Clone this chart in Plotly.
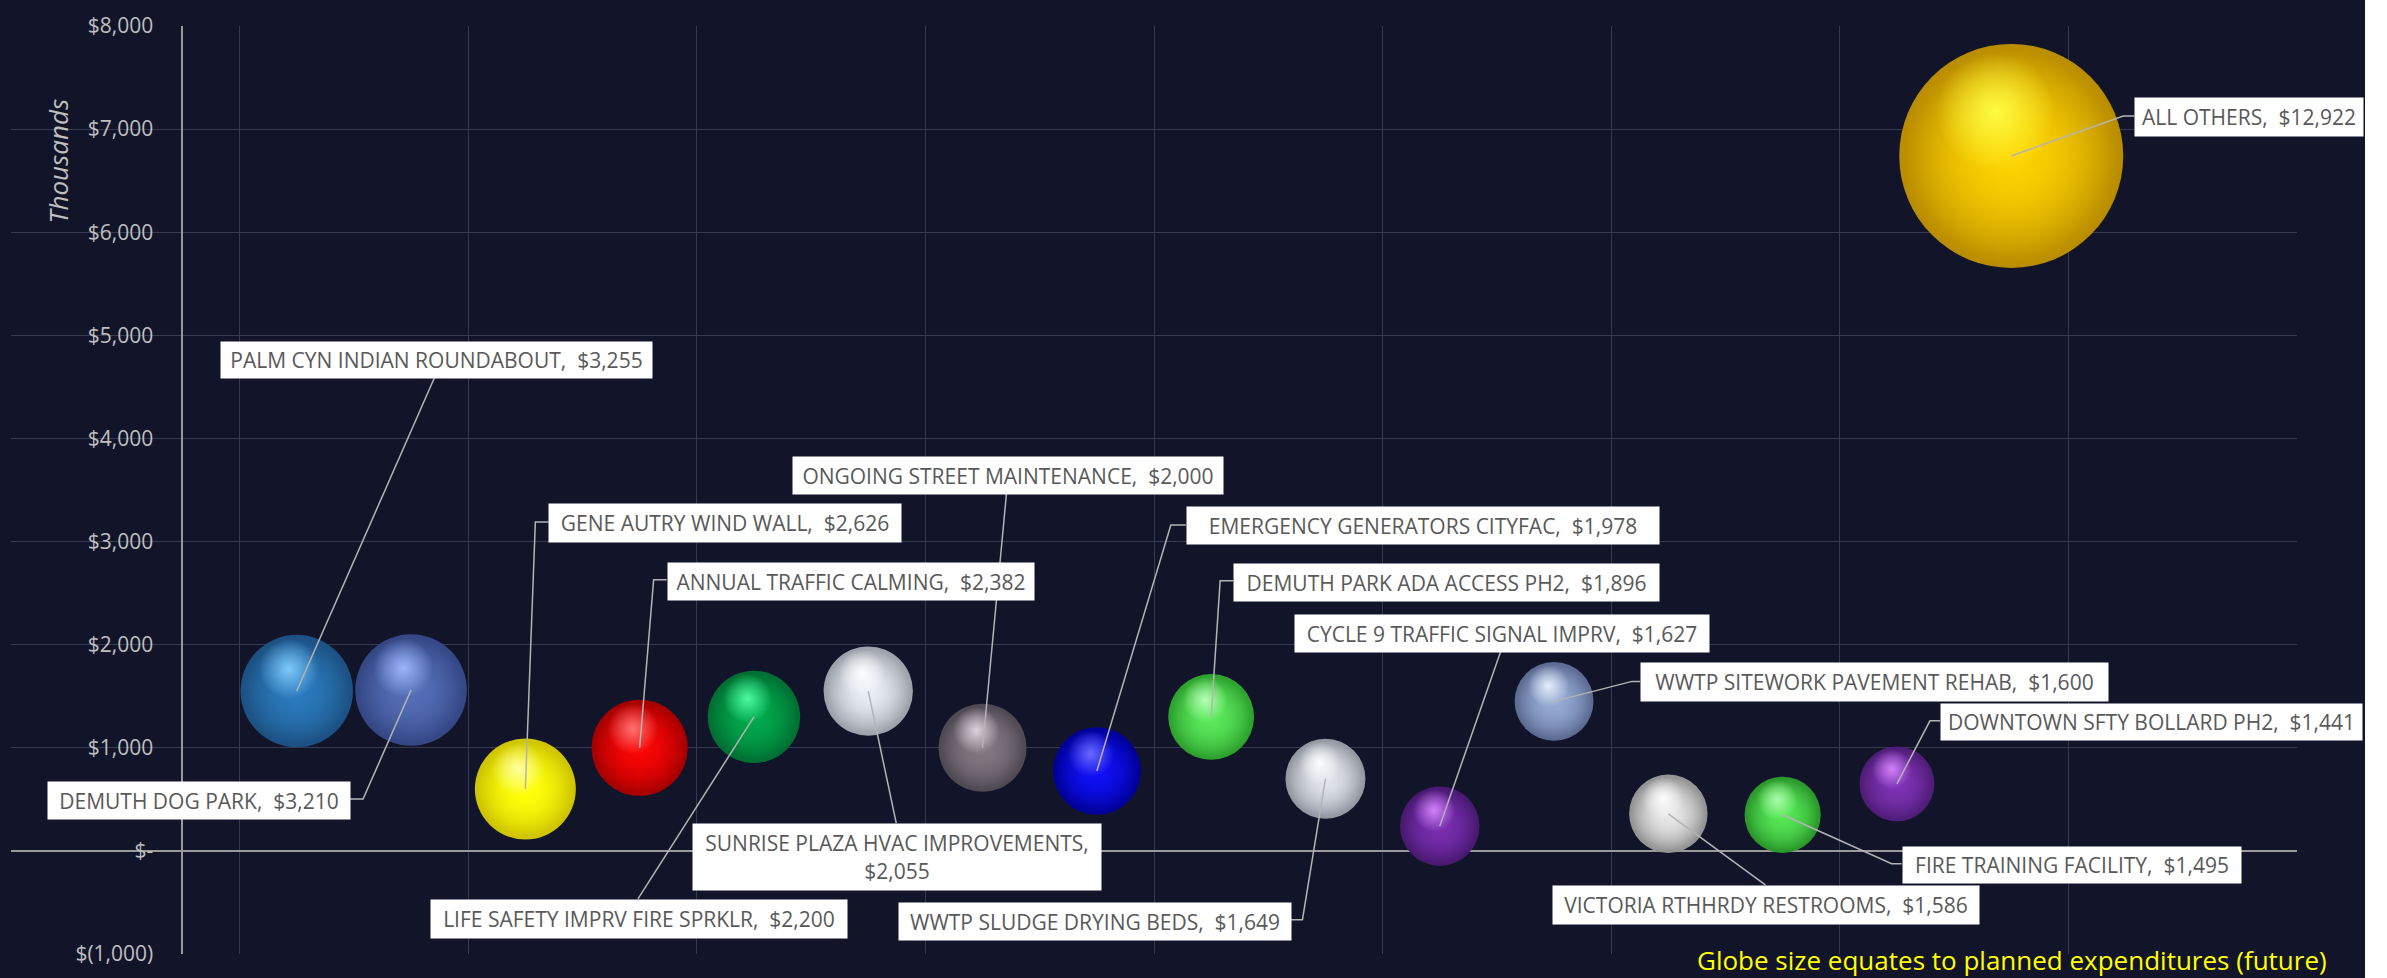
import math
import plotly.graph_objects as go

# ---------------- data ----------------
projects = [
    "PALM CYN INDIAN ROUNDABOUT", "DEMUTH DOG PARK", "GENE AUTRY WIND WALL",
    "ANNUAL TRAFFIC CALMING", "LIFE SAFETY IMPRV FIRE SPRKLR",
    "SUNRISE PLAZA HVAC IMPROVEMENTS", "ONGOING STREET MAINTENANCE",
    "EMERGENCY GENERATORS CITYFAC", "DEMUTH PARK ADA ACCESS PH2",
    "WWTP SLUDGE DRYING BEDS", "CYCLE 9 TRAFFIC SIGNAL IMPRV",
    "WWTP SITEWORK PAVEMENT REHAB", "VICTORIA RTHHRDY RESTROOMS",
    "FIRE TRAINING FACILITY", "DOWNTOWN SFTY BOLLARD PH2", "ALL OTHERS",
]
x_rank = [1, 2, 3, 4, 5, 6, 7, 8, 9, 10, 11, 12, 13, 14, 15, 16]
y_pos = [1550, 1560, 600, 1000, 1300, 1550, 1000, 775, 1300, 700, 240, 1450, 360, 350, 650, 6740]
planned = [3255, 3210, 2626, 2382, 2200, 2055, 2000, 1978, 1896, 1649, 1627, 1600, 1586, 1495, 1441, 12922]

y_tick_values = [-1000, 0, 1000, 2000, 3000, 4000, 5000, 6000, 7000, 8000]
y_tick_labels = ["$(1,000)", "$-", "$1,000", "$2,000", "$3,000", "$4,000",
                 "$5,000", "$6,000", "$7,000", "$8,000"]

# ---------------- style ----------------
FIG_W, FIG_H = 2387, 978
M_L, M_R, M_T, M_B = 11, 90, 18, 15
X_RANGE = [-1.5, 18.5]
Y_RANGE = [-1000, 8000]
PLOT_W = FIG_W - M_L - M_R
PLOT_H = FIG_H - M_T - M_B
PX_PER_X = PLOT_W / (X_RANGE[1] - X_RANGE[0])
PX_PER_Y = PLOT_H / (Y_RANGE[1] - Y_RANGE[0])

BG = "#12152A"
GRID = "#363A52"
AXIS = "#9A9A9A"
TICK = "#BFBFBF"
LEADER = "#B4B4B4"
LABEL_TXT = "#595959"
FONT = "Open Sans"

MAX_D = 224  # px diameter of the largest globe
SIZEREF = 2.0 * max(planned) / MAX_D ** 2

# (base, rim, highlight) colours per globe
base_rgb = [(42, 122, 188), (84, 110, 182), (255, 255, 10), (250, 5, 5), (0, 168, 75),
            (232, 236, 243), (130, 120, 130), (15, 15, 245), (90, 232, 90), (225, 228, 235),
            (120, 45, 175), (150, 170, 212), (232, 232, 232), (85, 230, 85), (125, 50, 180),
            (252, 210, 0)]
edge_rgb = [(28, 80, 130), (52, 70, 132), (205, 195, 0), (165, 0, 0), (0, 110, 50),
            (155, 160, 170), (78, 72, 82), (0, 0, 150), (45, 160, 45), (145, 150, 160),
            (72, 25, 112), (92, 106, 145), (145, 145, 145), (42, 150, 42), (78, 28, 118),
            (185, 140, 0)]
hl_rgb = [(130, 205, 255), (160, 185, 255), (255, 255, 170), (255, 120, 120), (80, 255, 165),
          (255, 255, 255), (225, 215, 225), (110, 110, 255), (185, 255, 185), (255, 255, 255),
          (215, 135, 255), (232, 242, 255), (255, 255, 255), (175, 255, 175), (215, 135, 255),
          (255, 255, 70)]


def rgba(c, a):
    return "rgba(%d,%d,%d,%.3f)" % (c[0], c[1], c[2], a)


# label boxes: (xshift, yshift, width, height) in px relative to the globe centre
label_box = [(-77, 350, 431, 36), (-364, -91, 302, 37), (23, 286, 352, 38), (27, 186, 366, 37),
             (-324, -182, 416, 38), (-176, -132, 408, 66), (-191, 292, 430, 37), (89, 265, 472, 37),
             (22, 154, 425, 37), (-427, -123, 392, 37), (-146, 212, 414, 37), (86, 39, 467, 38),
             (-116, -71, 426, 38), (119, -31, 338, 36), (43, 81, 421, 36), (123, 59, 228, 38)]
# leader-line vertices (px, y up) relative to the globe centre
leader_pts = [[(138, 314)], [(-48, -109), (-62, -109)], [(10, 267), (23, 267)],
              [(14, 168), (27, 168)], [(-116, -182)], [(28, -132)], [(24, 255)],
              [(74, 246), (89, 246)], [(9, 136), (22, 136)], [(-23, -141), (-35, -141)],
              [(61, 175)], [(78, 20), (86, 20)], [(97, -71)], [(109, -49), (119, -49)],
              [(33, 63), (43, 63)], [(112, 40), (123, 40)]]

fig = go.Figure()

# globe body: rim colour -> base colour
fig.add_trace(go.Scatter(
    x=x_rank, y=y_pos, mode="markers", hoverinfo="skip", showlegend=False,
    marker=dict(size=planned, sizemode="area", sizeref=SIZEREF, opacity=1,
                color=[rgba(c, 1) for c in edge_rgb],
                gradient=dict(type="radial", color=[rgba(c, 1) for c in base_rgb]),
                line=dict(width=0))))
# inner fill keeps the body colour flat, darkening only near the rim
fig.add_trace(go.Scatter(
    x=x_rank, y=y_pos, mode="markers", hoverinfo="skip", showlegend=False,
    marker=dict(size=[v * 0.85 for v in planned], sizemode="area", sizeref=SIZEREF, opacity=1,
                color=[rgba(c, 0) for c in base_rgb],
                gradient=dict(type="radial", color=[rgba(c, 1) for c in base_rgb]),
                line=dict(width=0))))
# specular highlight, up-left of the centre
diam = [MAX_D * math.sqrt(v / max(planned)) for v in planned]
fig.add_trace(go.Scatter(
    x=[x + (-0.07 * d) / PX_PER_X for x, d in zip(x_rank, diam)],
    y=[y + (0.20 * d) / PX_PER_Y for y, d in zip(y_pos, diam)],
    mode="markers", hoverinfo="skip", showlegend=False,
    marker=dict(size=[v * 0.28 for v in planned], sizemode="area", sizeref=SIZEREF, opacity=1,
                color=[rgba(c, 0) for c in hl_rgb],
                gradient=dict(type="radial", color=[rgba(c, 0.95) for c in hl_rgb]),
                line=dict(width=0))))

shapes = []
annotations = []
for i, name in enumerate(projects):
    path = "M0,0" + "".join(" L%s,%s" % (dx, dy) for dx, dy in leader_pts[i])
    shapes.append(dict(type="path", xref="x", yref="y", xsizemode="pixel", ysizemode="pixel",
                       xanchor=x_rank[i], yanchor=y_pos[i], path=path,
                       line=dict(color=LEADER, width=1.5), layer="above"))
    amt = "${:,}".format(planned[i])
    if name.startswith("SUNRISE"):
        txt = name + ",<br>" + amt
    else:
        txt = name + ",\u00a0 " + amt
    xs, ys, w, h = label_box[i]
    annotations.append(dict(x=x_rank[i], y=y_pos[i], xref="x", yref="y", text=txt,
                            showarrow=False, xanchor="left", yanchor="top",
                            xshift=xs, yshift=ys, width=w, height=h, borderpad=0,
                            bgcolor="#FFFFFF", align="center", valign="middle",
                            font=dict(family=FONT, size=21, color=LABEL_TXT)))

# display-unit label
annotations.append(dict(x=(58 - M_L) / PLOT_W, y=(FIG_H - M_B - 156) / PLOT_H, xref="paper",
                        yref="paper", text="Thousands", showarrow=False, textangle=-90,
                        xanchor="center", yanchor="middle",
                        font=dict(family=FONT, size=26, color=TICK, style="italic")))
# footnote
annotations.append(dict(x=(2329 - M_L) / PLOT_W, y=(FIG_H - M_B - 969) / PLOT_H, xref="paper",
                        yref="paper", text="Globe size equates to planned expenditures (future)",
                        showarrow=False, xanchor="right", yanchor="middle",
                        font=dict(family=FONT, size=26, color="#FFFF00")))

# white strip at the far right of the picture
shapes.append(dict(type="rect", xref="paper", yref="paper",
                   x0=(2365 - M_L) / PLOT_W, x1=(FIG_W + 10 - M_L) / PLOT_W,
                   y0=-0.1, y1=1.1, fillcolor="#FFFFFF", line=dict(width=0), layer="above"))

fig.update_layout(
    width=FIG_W, height=FIG_H, autosize=False,
    margin=dict(l=M_L, r=M_R, t=M_T, b=M_B, pad=0),
    paper_bgcolor=BG, plot_bgcolor=BG,
    showlegend=False,
    xaxis=dict(range=X_RANGE, tick0=X_RANGE[0], dtick=2, showticklabels=False,
               showgrid=True, gridcolor=GRID, gridwidth=1, zeroline=False,
               showline=False, ticks=""),
    yaxis=dict(range=Y_RANGE, tickvals=y_tick_values, ticktext=y_tick_labels,
               showgrid=True, gridcolor=GRID, gridwidth=1,
               zeroline=True, zerolinecolor=AXIS, zerolinewidth=2,
               showline=True, linecolor=AXIS, linewidth=2,
               anchor="free", position=(0 - X_RANGE[0]) / (X_RANGE[1] - X_RANGE[0]),
               ticks="", ticklabelstandoff=24,
               tickfont=dict(family=FONT, size=21, color=TICK)),
    shapes=shapes,
    annotations=annotations,
)

fig.write_html("out.html")
